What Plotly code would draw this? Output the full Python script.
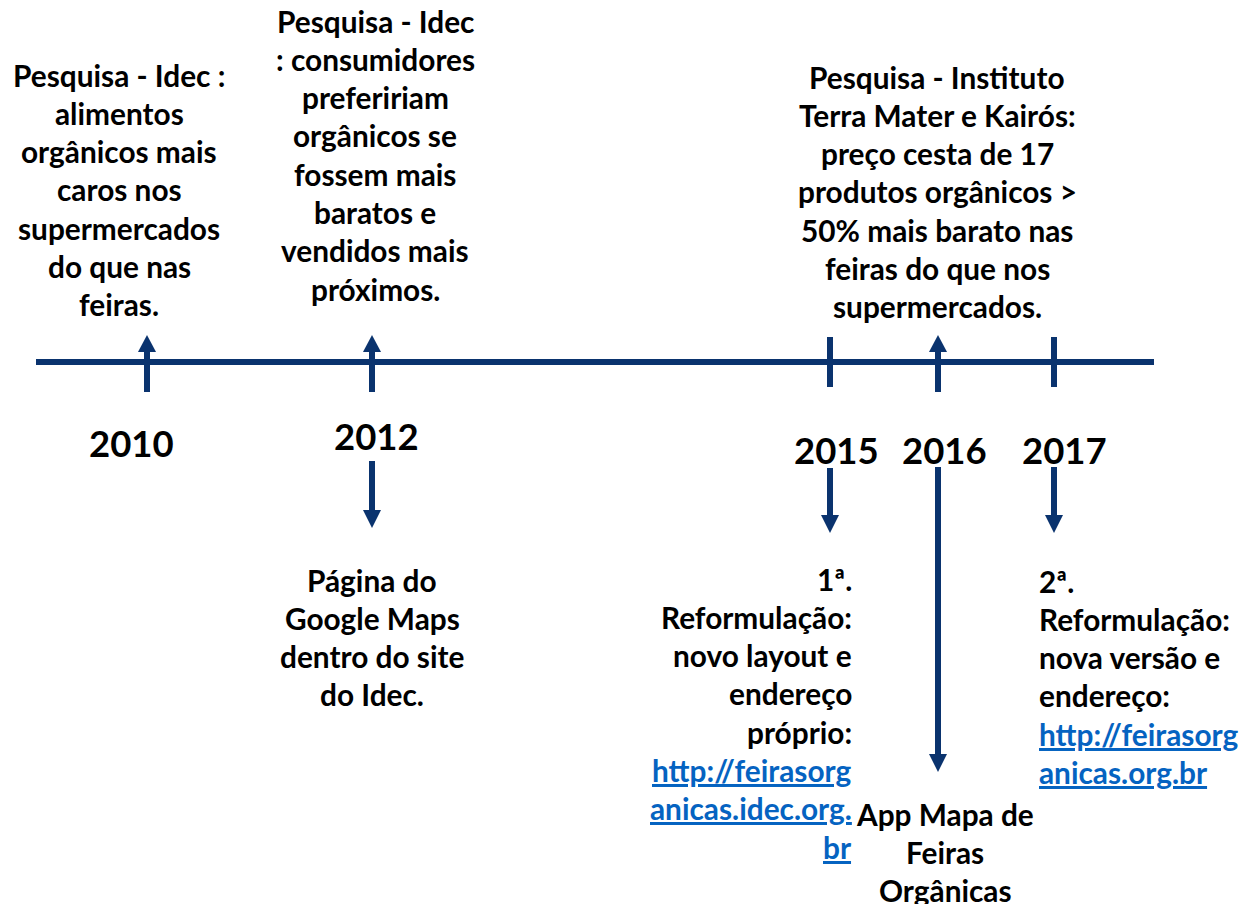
import plotly.graph_objects as go

# ---------------- data ----------------
years = ["2010", "2012", "2015", "2016", "2017"]

event_2010_above = ["Pesquisa - Idec :", "alimentos", "orgânicos mais", "caros nos",
                    "supermercados", "do que nas", "feiras."]
event_2012_above = ["Pesquisa - Idec", ": consumidores", "prefeririam", "orgânicos se",
                    "fossem mais", "baratos e", "vendidos mais", "próximos."]
event_2016_above = ["Pesquisa - Instituto", "Terra Mater e Kairós:", "preço cesta de 17",
                    "produtos orgânicos >", "50% mais barato nas", "feiras do que nos",
                    "supermercados."]
event_2012_below = ["Página do", "Google Maps", "dentro do site", "do Idec."]
event_2015_below = ["1ª.", "Reformulação:", "novo layout e", "endereço", "próprio:"]
link_2015 = ["http://feirasorg", "anicas.idec.org.", "br"]
event_2016_below = ["App Mapa de", "Feiras", "Orgânicas"]
event_2017_below = ["2ª.", "Reformulação:", "nova versão e", "endereço:"]
link_2017 = ["http://feirasorg", "anicas.org.br"]

# ---------------- layout / styling ----------------
PAGE_W, PAGE_H = 1250, 904
OFF = 8  # default body margin of the html page
NAVY = "#0A336E"
LINK = "#0563C1"
FONT = "Lato"
TXT = 29.8
YEAR_SIZE = 36.5
LINE_H = 38.3

x_pos = {"2010": 147, "2012": 372, "2015": 830, "2016": 938, "2017": 1054}
year_label_xy = {"2010": (131, 443), "2012": (376, 436), "2015": (836, 450),
                 "2016": (944, 450), "2017": (1064, 450)}
up_arrow_years = ["2010", "2012", "2016"]
tick_years = ["2015", "2017"]
down_arrows = {"2012": (461, 528), "2015": (468, 533), "2016": (467, 772), "2017": (467, 533)}
AXIS_Y = 362
AXIS_X0, AXIS_X1 = 36, 1154

fig = go.Figure()
shapes = []
annotations = []


def add_line(x0, y0, x1, y1, w=6):
    shapes.append(dict(type="line", xref="x", yref="y", x0=x0, y0=y0, x1=x1, y1=y1,
                       line=dict(color=NAVY, width=w)))


def add_head(x, tip, base, half=9):
    shapes.append(dict(type="path", xref="x", yref="y",
                       path=f"M {x-half},{base} L {x+half},{base} L {x},{tip} Z",
                       fillcolor=NAVY, line=dict(color=NAVY, width=0)))


# main axis
add_line(AXIS_X0, AXIS_Y, AXIS_X1, AXIS_Y)

for yr in up_arrow_years:
    x = x_pos[yr]
    add_line(x, 392, x, 350)
    add_head(x, 335, 352)
for yr in tick_years:
    x = x_pos[yr]
    add_line(x, 337, x, 387)
for yr, (top, tip) in down_arrows.items():
    x = x_pos[yr]
    add_line(x, top, x, tip - 15)
    add_head(x, tip, tip - 18)


def add_text(lines, x, y0, anchor, color="black", link=False):
    for i, t in enumerate(lines):
        txt = f"<b>{t}</b>"
        if link:
            txt = f"<b><u>{t}</u></b>"
        annotations.append(dict(x=x, y=y0 + i * LINE_H, xref="x", yref="y", text=txt,
                                showarrow=False, xanchor=anchor, yanchor="middle",
                                font=dict(family=FONT, size=TXT, color=color)))


add_text(event_2010_above, 119, 75, "center")
add_text(event_2012_above, 375, 21, "center")
add_text(event_2016_above, 937, 77, "center")
add_text(event_2012_below, 372, 580, "center")
add_text(event_2015_below, 854, 579, "right")
add_text(link_2015, 854, 579 + len(event_2015_below) * LINE_H, "right", LINK, True)
add_text(event_2016_below, 945, 814, "center")
add_text(event_2017_below, 1037, 581, "left")
add_text(link_2017, 1037, 581 + len(event_2017_below) * LINE_H, "left", LINK, True)

for yr in years:
    x, y = year_label_xy[yr]
    annotations.append(dict(x=x, y=y, xref="x", yref="y", text=f"<b>{yr}</b>",
                            showarrow=False, xanchor="center", yanchor="middle",
                            font=dict(family=FONT, size=YEAR_SIZE, color="black")))

fig.update_layout(
    width=PAGE_W - OFF, height=PAGE_H - OFF, margin=dict(l=0, r=0, t=0, b=0),
    paper_bgcolor="white", plot_bgcolor="white",
    xaxis=dict(range=[OFF, PAGE_W], visible=False, fixedrange=True),
    yaxis=dict(range=[PAGE_H, OFF], visible=False, fixedrange=True),
    shapes=shapes, annotations=annotations, showlegend=False,
)

fig.write_html("out.html")
